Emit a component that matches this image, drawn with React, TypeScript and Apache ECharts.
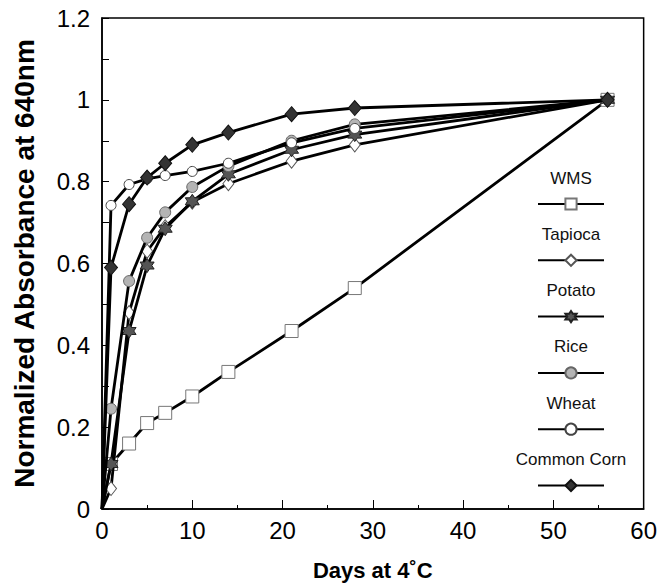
import React, { useEffect, useRef } from 'react';
import * as echarts from 'echarts';

// Days of storage at 4 °C
const days = [0, 1, 3, 5, 7, 10, 14, 21, 28, 56];

// Normalized absorbance at 640 nm
const wms = [0, 0.11, 0.16, 0.21, 0.235, 0.275, 0.335, 0.435, 0.54, 1];
const tapioca = [0, 0.05, 0.48, 0.63, 0.69, 0.75, 0.795, 0.85, 0.89, 1];
const potato = [0, 0.11, 0.435, 0.595, 0.685, 0.752, 0.818, 0.878, 0.915, 1];
const rice = [0, 0.245, 0.557, 0.663, 0.725, 0.787, 0.838, 0.9, 0.94, 1];
const wheat = [0, 0.742, 0.793, 0.807, 0.815, 0.825, 0.845, 0.895, 0.93, 1];
const commonCorn = [0, 0.59, 0.745, 0.81, 0.845, 0.89, 0.92, 0.965, 0.98, 1];

const seriesNames = ['WMS', 'Tapioca', 'Potato', 'Rice', 'Wheat', 'Common Corn'];
const seriesValues = [wms, tapioca, potato, rice, wheat, commonCorn];

const STAR =
  'path://M0,-10L2.9,-5L8.66,-5L5.8,0L8.66,5L2.9,5L0,10L-2.9,5L-8.66,5L-5.8,0L-8.66,-5L-2.9,-5Z';

const markerStyles = [
  { symbol: 'rect', size: 13, fill: '#ffffff', border: '#777777' },
  { symbol: 'diamond', size: [11, 14], fill: '#ffffff', border: '#555555' },
  { symbol: STAR, size: 14, fill: '#555555', border: '#222222' },
  { symbol: 'circle', size: 11, fill: '#b4b4b4', border: '#666666' },
  { symbol: 'circle', size: 10, fill: '#ffffff', border: '#444444' },
  { symbol: 'diamond', size: [13, 15], fill: '#333333', border: '#111111' },
];

const FONT = "'Liberation Sans', Arial, sans-serif";
const LEGEND_X = 537;
const LEGEND_TEXT_X = 571;
const LEGEND_TOP = 178;
const LEGEND_STEP = 56.3;
const LEGEND_LINE_OFFSET = 26;

export default function App() {
  const ref = useRef<HTMLDivElement>(null);

  useEffect(() => {
    const chart = echarts.init(ref.current!, null, { renderer: 'svg' });

    const series = seriesNames.map((name, i) => {
      const m = markerStyles[i];
      return {
        name,
        type: 'line',
        data: days.map((d, j) =>
          j === 0
            ? { value: [d, seriesValues[i][j]], symbol: 'none' }
            : { value: [d, seriesValues[i][j]] }
        ),
        symbol: m.symbol,
        symbolSize: m.size,
        showAllSymbol: true,
        clip: false,
        lineStyle: { color: '#000000', width: 2.8 },
        itemStyle: { color: m.fill, borderColor: m.border, borderWidth: 1 },
        z: 2 + i,
      };
    });

    const legends = seriesNames.map((name, i) => ({
      data: [name],
      left: LEGEND_X,
      top: LEGEND_TOP + i * LEGEND_STEP + LEGEND_LINE_OFFSET - 7,
      orient: 'horizontal',
      itemWidth: 66,
      itemHeight: 14,
      padding: 0,
      selectedMode: false,
      formatter: () => '',
      textStyle: { fontSize: 1 },
    }));

    const legendTexts = seriesNames.map((name, i) => ({
      type: 'text',
      x: LEGEND_TEXT_X,
      y: LEGEND_TOP + i * LEGEND_STEP,
      style: {
        text: name,
        font: `17px ${FONT}`,
        fill: '#111111',
        textAlign: 'center',
        textVerticalAlign: 'middle',
      },
    }));

    chart.setOption({
      animation: false,
      backgroundColor: '#ffffff',
      grid: {
        left: 102,
        top: 18,
        width: 543,
        height: 492,
        show: true,
        borderColor: '#000000',
        borderWidth: 1.5,
        backgroundColor: 'transparent',
      },
      legend: legends,
      xAxis: {
        type: 'value',
        min: 0,
        max: 60,
        interval: 10,
        name: 'Days at 4˚C',
        nameLocation: 'middle',
        nameGap: 50,
        nameTextStyle: { fontFamily: FONT, fontWeight: 'bold', fontSize: 22, color: '#000' },
        axisLine: { show: true, lineStyle: { color: '#000', width: 1.5 } },
        axisTick: { show: true, inside: true, length: 9, lineStyle: { color: '#000' } },
        minorTick: { show: true, splitNumber: 2, length: 4, lineStyle: { color: '#000' } },
        splitLine: { show: false },
        axisLabel: { fontFamily: FONT, fontSize: 24, color: '#000', margin: 9 },
      },
      yAxis: {
        type: 'value',
        min: 0,
        max: 1.2,
        interval: 0.2,
        name: 'Normalized Absorbance at 640nm',
        nameLocation: 'middle',
        nameGap: 64,
        nameTextStyle: { fontFamily: FONT, fontWeight: 'bold', fontSize: 28, color: '#000' },
        axisLine: { show: true, lineStyle: { color: '#000', width: 1.5 } },
        axisTick: { show: true, inside: true, length: 7, lineStyle: { color: '#000' } },
        minorTick: { show: true, splitNumber: 2, length: 7, lineStyle: { color: '#000' } },
        splitLine: { show: false },
        axisLabel: { fontFamily: FONT, fontSize: 24, color: '#000', margin: 12 },
      },
      graphic: legendTexts,
      series,
    });

    return () => chart.dispose();
  }, []);

  return (
    <div
      ref={ref}
      style={{ position: 'fixed', left: 0, top: 0, width: 660, height: 586, background: '#fff' }}
    />
  );
}
